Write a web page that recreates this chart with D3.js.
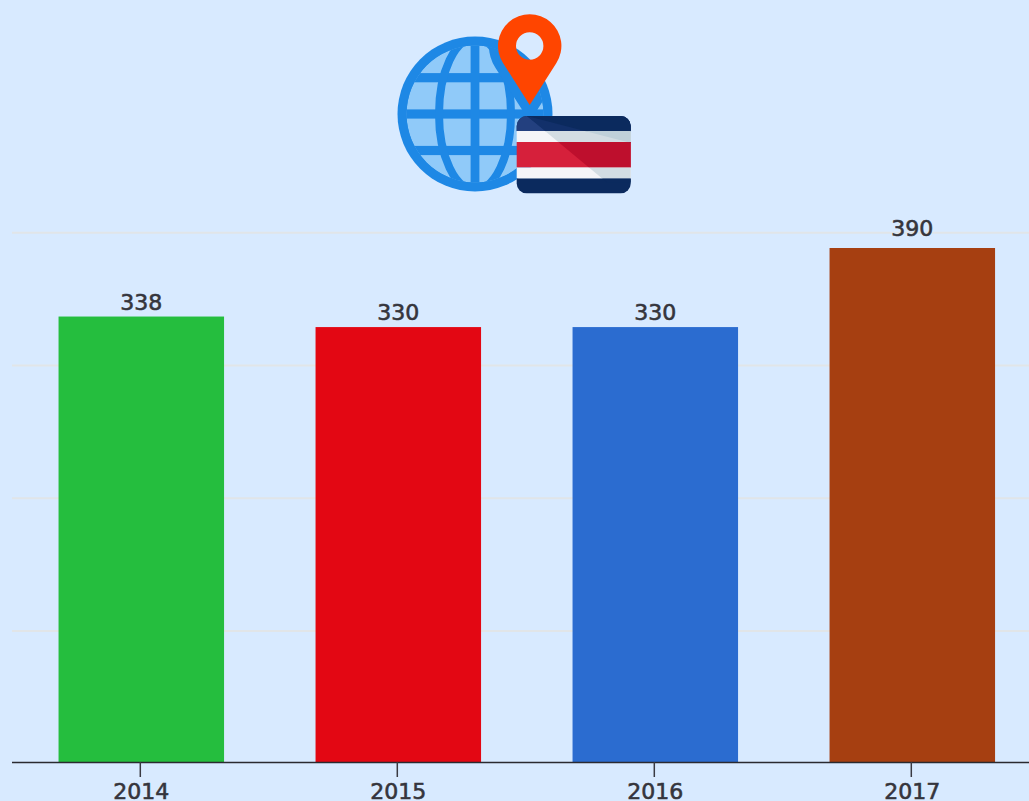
<!DOCTYPE html>
<html><head><meta charset="utf-8">
<style>html,body{margin:0;padding:0;background:#d8eaff;overflow:hidden}svg{display:block}
text{font-family:"DejaVu Sans",sans-serif;font-weight:400;fill:#35353c;font-size:22px;stroke:#35353c;stroke-width:.6px}</style>
<script src="https://cdnjs.cloudflare.com/ajax/libs/d3/7.8.5/d3.min.js"></script></head><body>
<svg id="c" width="1029" height="801"></svg>
<script>
const years = ["2014","2015","2016","2017"];
const values = [338,330,330,390];
const barColors = ["#25be3e","#e30713","#2b6cd0","#a63f11"];
const gridTicks = [100,200,300,400];

const svg = d3.select("#c");
const x = d3.scaleBand().domain(years).range([12.8,1040.8]).paddingInner(0.356).paddingOuter(0.178);
const y = d3.scaleLinear().domain([0,390]).range([762,248]);
const yGrid = d3.scaleLinear().domain([0,400]).range([763.8,232.7]);

svg.append("g").selectAll("line").data(gridTicks).join("line")
  .attr("x1",12).attr("x2",1029).attr("y1",d=>yGrid(d)).attr("y2",d=>yGrid(d))
  .attr("stroke","#e1e5e8").attr("stroke-width",2);

svg.append("g").selectAll("rect").data(values).join("rect")
  .attr("x",(d,i)=>x(years[i])).attr("width",x.bandwidth())
  .attr("y",d=>y(d)).attr("height",d=>y(0)-y(d))
  .attr("fill",(d,i)=>barColors[i]);

svg.append("g").selectAll("text").data(values).join("text")
  .attr("x",(d,i)=>x(years[i])+x.bandwidth()/2).attr("y",(d,i)=>y(d)-(i===3?12:7))
  .attr("text-anchor","middle").text(d=>d);

const ax = svg.append("g").attr("transform","translate(0,762)").call(d3.axisBottom(x).tickSize(15).tickPadding(3));
ax.select(".domain").attr("stroke","#2a2a30").attr("stroke-width",1.5).attr("d","M12,0.5H1029");
ax.selectAll(".tick line").attr("stroke","#3a3a42").attr("stroke-width",1.5).attr("x1",-1).attr("x2",-1);
ax.selectAll("text").attr("font-size",null).attr("font-family",null).attr("fill",null).attr("dy",0).attr("y",36.5);

// icon
const ic = svg.append("g");
const defs = svg.append("defs");
defs.append("clipPath").attr("id","g").append("circle").attr("cx",475).attr("cy",114).attr("r",68.5);
defs.append("clipPath").attr("id","f").append("rect").attr("x",516.7).attr("y",116).attr("width",114).attr("height",77.5).attr("rx",10);
const BLUE="#1e88e5";
ic.append("circle").attr("cx",475).attr("cy",114).attr("r",77.5).attr("fill",BLUE);
const gi = ic.append("g").attr("clip-path","url(#g)");
gi.append("circle").attr("cx",475).attr("cy",114).attr("r",68.5).attr("fill","#90caf9");
[77.7,114,150.5].forEach(v=>gi.append("rect").attr("x",400).attr("width",150).attr("y",v-4.6).attr("height",9.2).attr("fill",BLUE));
gi.append("rect").attr("x",470.6).attr("width",8.8).attr("y",40).attr("height",150).attr("fill",BLUE);
gi.append("ellipse").attr("cx",475).attr("cy",114).attr("rx",36).attr("ry",76).attr("fill","none").attr("stroke",BLUE).attr("stroke-width",8);
const pin="M529.7,105 L503,63 A31.7,31.7 0 1 1 556.4,63 Z";
gi.append("path").attr("d",pin).attr("fill",BLUE).attr("stroke",BLUE).attr("stroke-width",18);
ic.append("path").attr("d",pin+" M543.4,46 A13.7,13.7 0 1 0 516,46 A13.7,13.7 0 1 0 543.4,46 Z").attr("fill","#ff4500").attr("fill-rule","evenodd");
const fg = ic.append("g").attr("clip-path","url(#f)");
const bands=[[116,15.2,"#0b2a5e","#12306a"],[131,11.2,"#f4f5f8","#d3dde3"],[142,25.6,"#d6203b","#be0f2d"],[167.5,11,"#f4f5f8","#d3dde3"],[178.5,15,"#0b2a5e","#0b2a5e"]];
bands.forEach(s=>fg.append("rect").attr("x",516).attr("width",116).attr("y",s[0]).attr("height",s[1]).attr("fill",s[2]));
fg.append("path").attr("d","M516,116H527L547,131H516Z").attr("fill","#23407f");
defs.append("clipPath").attr("id","s").append("path").attr("d","M527,116L607,182.5H631V116Z");
defs.append("clipPath").attr("id","t").append("path").attr("d","M527,116L631,143V116Z");
const sg=fg.append("g").attr("clip-path","url(#s)");
bands.forEach(s=>sg.append("rect").attr("x",516).attr("width",116).attr("y",s[0]).attr("height",s[1]).attr("fill",s[3]));
const tg=fg.append("g").attr("clip-path","url(#t)");
[["#0b2a5e",116,15.2],["#bfd0d9",131,11.2],["#a00b28",142,2]].forEach(s=>tg.append("rect").attr("x",516).attr("width",116).attr("y",s[1]).attr("height",s[2]).attr("fill",s[0]));
</script></body></html>
